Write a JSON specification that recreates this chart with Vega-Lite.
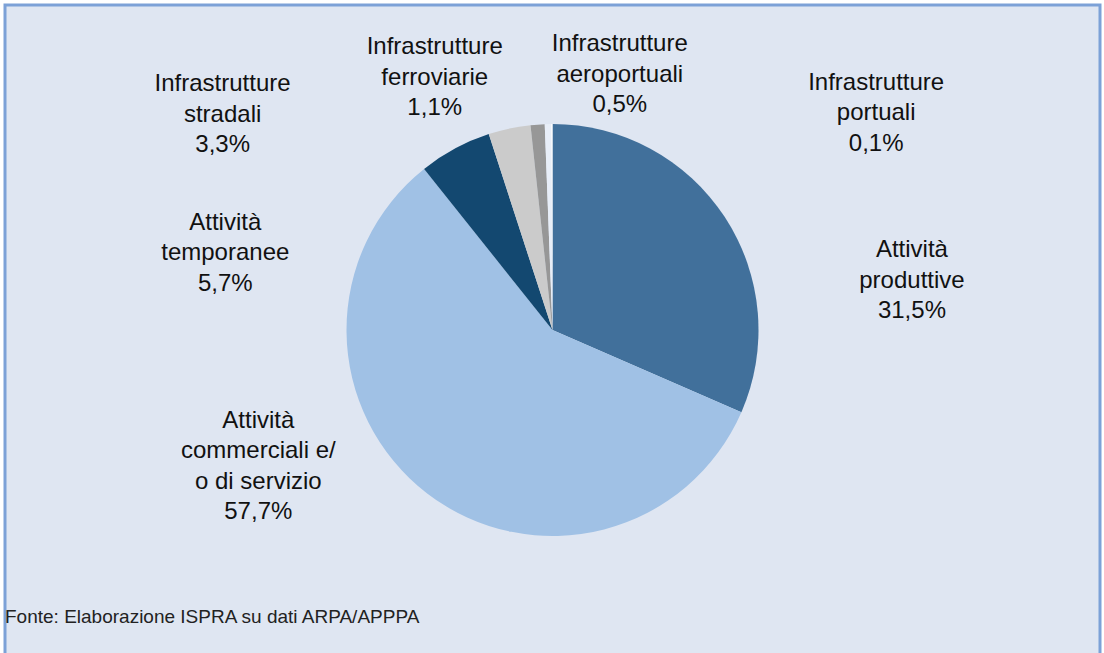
{
  "$schema": "https://vega.github.io/schema/vega-lite/v6.json",
  "width": 1095,
  "height": 650,
  "autosize": "none",
  "padding": {"left": 5, "top": 5, "right": 4, "bottom": 0},
  "background": "#ffffff",
  "view": {"fill": "#dfe6f2", "stroke": "#7ca1d7", "strokeWidth": 3},
  "config": {
    "view": {"fill": "#dfe6f2", "stroke": "#7ca1d7", "strokeWidth": 3},
    "text": {"font": "Liberation Sans", "fontSize": 24, "lineBreak": "\n", "lineHeight": 30.5, "align": "center", "baseline": "middle", "color": "#111111"}
  },
  "title": {
    "text": "Fonte: Elaborazione ISPRA su dati ARPA/APPPA",
    "orient": "bottom",
    "anchor": "start",
    "frame": "group",
    "offset": -32,
    "baseline": "alphabetic",
    "font": "Liberation Sans",
    "fontSize": 19,
    "fontWeight": "normal",
    "color": "#222222"
  },
  "data": {
    "values": [
      {"cat": "produttive", "ord": 1, "value": 31.5, "label": "Attività\nproduttive\n31,5%"},
      {"cat": "commerciali", "ord": 2, "value": 57.7, "label": "Attività\ncommerciali e/\no di servizio\n57,7%"},
      {"cat": "temporanee", "ord": 3, "value": 5.7, "label": "Attività\ntemporanee\n5,7%"},
      {"cat": "stradali", "ord": 4, "value": 3.3, "label": "Infrastrutture\nstradali\n3,3%"},
      {"cat": "ferroviarie", "ord": 5, "value": 1.1, "label": "Infrastrutture\nferroviarie\n1,1%"},
      {"cat": "aeroportuali", "ord": 6, "value": 0.5, "label": "Infrastrutture\naeroportuali\n0,5%"},
      {"cat": "portuali", "ord": 7, "value": 0.1, "label": "Infrastrutture\nportuali\n0,1%"}
    ]
  },
  "transform": [
    {"stack": "value", "groupby": [], "sort": [{"field": "ord", "order": "ascending"}], "as": ["v0", "v1"]},
    {"calculate": "(datum.v0 + datum.v1) / 2", "as": "mid"}
  ],
  "layer": [
    {
      "mark": {"type": "arc", "outerRadius": 206},
      "encoding": {
        "theta": {"field": "v0", "type": "quantitative", "scale": {"domain": [0, 99.9]}},
        "theta2": {"field": "v1"},
        "color": {
          "field": "cat", "type": "nominal", "legend": null,
          "scale": {
            "domain": ["produttive", "commerciali", "temporanee", "stradali", "ferroviarie", "aeroportuali", "portuali"],
            "range": ["#41709b", "#a0c1e5", "#134870", "#cbcbcb", "#979797", "#e8eef8", "#ffffff"]
          }
        }
      }
    },
    {
      "transform": [{"filter": "datum.cat === 'produttive'"}],
      "mark": {"type": "text", "radius": 260, "dx": 142, "dy": 63},
      "encoding": {"theta": {"field": "mid", "type": "quantitative", "scale": {"domain": [0, 99.9]}}, "text": {"field": "label"}}
    },
    {
      "transform": [{"filter": "datum.cat === 'commerciali'"}],
      "mark": {"type": "text", "radius": 260, "dx": -136, "dy": -115.75},
      "encoding": {"theta": {"field": "mid", "type": "quantitative", "scale": {"domain": [0, 99.9]}}, "text": {"field": "label"}}
    },
    {
      "transform": [{"filter": "datum.cat === 'temporanee'"}],
      "mark": {"type": "text", "radius": 260, "dx": -204, "dy": 121.5},
      "encoding": {"theta": {"field": "mid", "type": "quantitative", "scale": {"domain": [0, 99.9]}}, "text": {"field": "label"}}
    },
    {
      "transform": [{"filter": "datum.cat === 'stradali'"}],
      "mark": {"type": "text", "radius": 260, "dx": -275.5, "dy": 8.5},
      "encoding": {"theta": {"field": "mid", "type": "quantitative", "scale": {"domain": [0, 99.9]}}, "text": {"field": "label"}}
    },
    {
      "transform": [{"filter": "datum.cat === 'ferroviarie'"}],
      "mark": {"type": "text", "radius": 260, "dx": -99, "dy": -23.5},
      "encoding": {"theta": {"field": "mid", "type": "quantitative", "scale": {"domain": [0, 99.9]}}, "text": {"field": "label"}}
    },
    {
      "transform": [{"filter": "datum.cat === 'aeroportuali'"}],
      "mark": {"type": "text", "radius": 260, "dx": 73, "dy": -25.9},
      "encoding": {"theta": {"field": "mid", "type": "quantitative", "scale": {"domain": [0, 99.9]}}, "text": {"field": "label"}}
    },
    {
      "transform": [{"filter": "datum.cat === 'portuali'"}],
      "mark": {"type": "text", "radius": 260, "dx": 324.5, "dy": 12.5},
      "encoding": {"theta": {"field": "mid", "type": "quantitative", "scale": {"domain": [0, 99.9]}}, "text": {"field": "label"}}
    }
  ]
}
